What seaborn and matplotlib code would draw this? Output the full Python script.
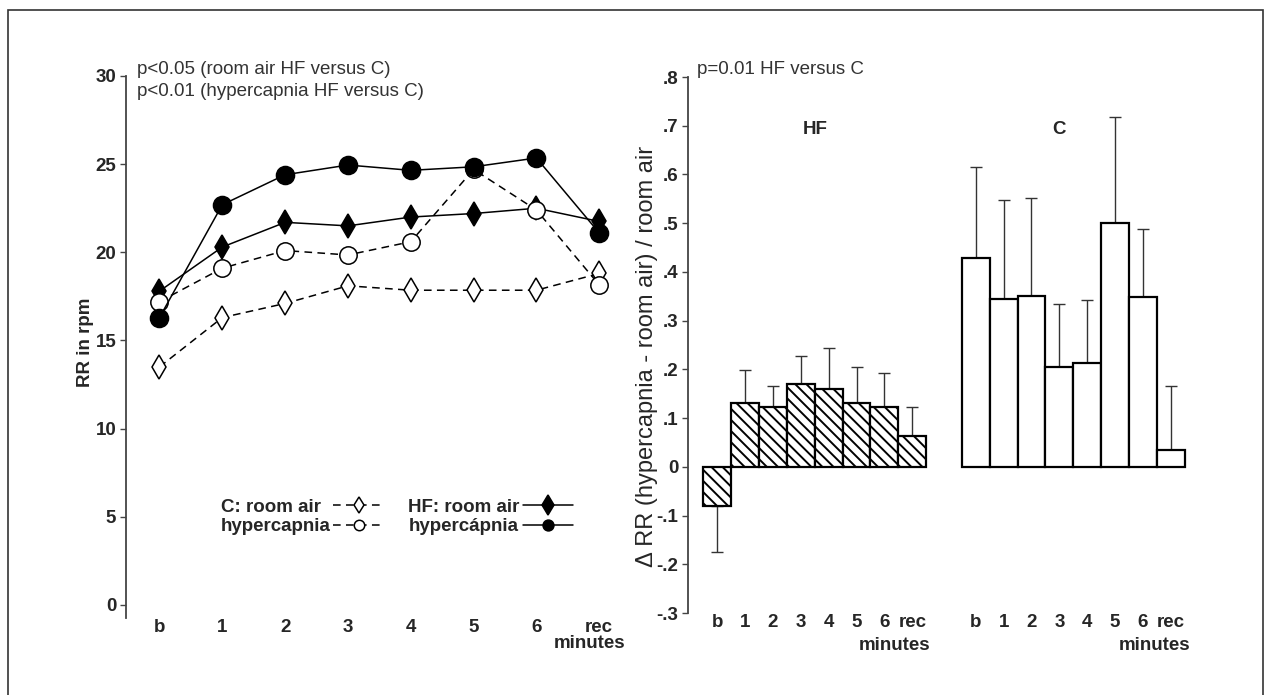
import matplotlib
matplotlib.use("Agg")
import matplotlib.pyplot as plt
import matplotlib.transforms as mtransforms
from matplotlib.patches import Rectangle
from matplotlib.ticker import FuncFormatter
import seaborn as sns
import numpy as np
import pandas as pd

# --- data ---
minutes = ["b", "1", "2", "3", "4", "5", "6", "rec"]

# respiratory rate (rpm), left panel
c_room_air = [13.5, 16.3, 17.1, 18.1, 17.85, 17.85, 17.85, 18.8]
c_hypercapnia = [17.2, 19.1, 20.1, 19.85, 20.6, 24.7, 22.4, 18.15]
hf_room_air = [17.8, 20.3, 21.7, 21.5, 22.0, 22.2, 22.5, 21.75]
hf_hypercapnia = [16.3, 22.7, 24.4, 24.95, 24.65, 24.85, 25.35, 21.1]

# relative change of RR, right panel (mean and one-sided error)
hf_delta = [-0.081, 0.130, 0.123, 0.169, 0.159, 0.130, 0.122, 0.064]
hf_err = [0.094, 0.069, 0.042, 0.058, 0.084, 0.075, 0.070, 0.059]
c_delta = [0.428, 0.344, 0.351, 0.205, 0.214, 0.500, 0.348, 0.034]
c_err = [0.188, 0.204, 0.200, 0.129, 0.128, 0.218, 0.140, 0.132]

sns.set_theme(style="white")
plt.rcParams["font.family"] = ["Liberation Sans", "DejaVu Sans"]
plt.rcParams["hatch.linewidth"] = 1.4

FS = 13.5
DARK = "#333333"
dash = (0, (5, 3.5))

fig = plt.figure(figsize=(12.69, 6.95), dpi=100)
ax1 = fig.add_axes([126 / 1269, 1 - 618 / 695, 499 / 1269, 542 / 695])
ax2 = fig.add_axes([688 / 1269, 1 - 613 / 695, 502 / 1269, 536 / 695])

# --- left panel: RR lines ---
x = np.arange(len(minutes))
series = {
    "C: room air": c_room_air,
    "hypercapnia": c_hypercapnia,
    "HF: room air": hf_room_air,
    "hypercápnia": hf_hypercapnia,
}
styles = {
    "C: room air": dict(marker="d", markerfacecolor="white", linestyle=dash, markersize=12, zorder=3),
    "hypercapnia": dict(marker="o", markerfacecolor="white", linestyle=dash, markersize=12.5, zorder=5),
    "HF: room air": dict(marker="d", markerfacecolor="black", linestyle="-", markersize=12.5, zorder=4),
    "hypercápnia": dict(marker="o", markerfacecolor="black", linestyle="-", markersize=13, zorder=6),
}
df_rr = pd.DataFrame({
    "minute": np.tile(x, len(series)),
    "rr": np.concatenate([series[k] for k in series]),
    "group": np.repeat(list(series.keys()), len(x)),
})
for name in series:
    sub = df_rr[df_rr["group"] == name]
    sns.lineplot(data=sub, x="minute", y="rr", ax=ax1, color="black",
                 markeredgecolor="black", markeredgewidth=1.1, linewidth=1.1,
                 label=name, **styles[name])

ax1.set_xlim(-0.533, 7.41)
ax1.set_ylim(-0.74, 30)
ax1.set_yticks(range(0, 31, 5))
ax1.set_xticks(x, minutes)
ax1.set_xlabel("")
ax1.set_ylabel("RR in rpm", fontsize=FS, fontweight="bold")
ax1.yaxis.set_label_coords(-0.064, 0.509)

handles, labels = ax1.get_legend_handles_labels()
leg = ax1.legend(handles, labels, ncol=2, loc="upper left", bbox_to_anchor=(0.19, 0.22),
                 frameon=False, markerfirst=False, markerscale=0.6, handlelength=2.67,
                 handletextpad=0.15, columnspacing=1.33, labelspacing=0.12,
                 borderpad=0, borderaxespad=0, prop={"size": FS, "weight": "bold"})
leg.legend_handles[0].set_markersize(8.5)
leg.legend_handles[2].set_markersize(10)

ax1.text(0.023, (618 - 70) / 542, "p<0.05 (room air HF versus C)", transform=ax1.transAxes,
         fontsize=FS, va="center", color=DARK)
ax1.text(0.023, (618 - 92) / 542, "p<0.01 (hypercapnia HF versus C)", transform=ax1.transAxes,
         fontsize=FS, va="center", color=DARK)
ax1.text(1.0, (618 - 643) / 542, "minutes", transform=ax1.transAxes, ha="right", va="center",
         fontsize=FS, fontweight="bold")

# --- right panel: relative change bars ---
hf_pos = np.arange(len(minutes)).astype(float)
c_pos = hf_pos + 9.28
df_hf = pd.DataFrame({"pos": hf_pos, "delta": hf_delta})
df_c = pd.DataFrame({"pos": c_pos, "delta": c_delta})
sns.barplot(data=df_hf, x="pos", y="delta", native_scale=True, width=1, color="white",
            saturation=1, edgecolor="black", linewidth=1.6, hatch="\\\\\\", errorbar=None, ax=ax2)
sns.barplot(data=df_c, x="pos", y="delta", native_scale=True, width=1, color="white",
            saturation=1, edgecolor="black", linewidth=1.6, errorbar=None, ax=ax2)

for pos, vals, errs in [(hf_pos, hf_delta, hf_err), (c_pos, c_delta, c_err)]:
    vals = np.asarray(vals)
    errs = np.asarray(errs)
    lower = np.where(vals < 0, errs, 0)
    upper = np.where(vals >= 0, errs, 0)
    ax2.errorbar(pos, vals, yerr=[lower, upper], fmt="none", ecolor=DARK, elinewidth=1,
                 capsize=4, capthick=1, zorder=0.9)

ax2.set_xlim(-1.05, 16.97)
ax2.set_ylim(-0.3, 0.8)
ax2.set_yticks(np.round(np.arange(-3, 9) / 10, 1))
ax2.yaxis.set_major_formatter(FuncFormatter(
    lambda v, p: "0" if abs(v) < 1e-9 else f"{v:.1f}".replace("0.", ".")))
ax2.set_xticks(np.concatenate([hf_pos, c_pos]), minutes * 2)
ax2.set_xlabel("")
ax2.set_ylabel("Δ RR (hypercapnia - room air) / room air", fontsize=17)
ax2.yaxis.set_label_coords(-0.06, 0.478)

ax2.text(0.017, (613 - 70) / 536, "p=0.01 HF versus C", transform=ax2.transAxes,
         fontsize=FS, va="center", color=DARK)
ax2.text(3.5, 0.693, "HF", ha="center", va="center", fontsize=FS, fontweight="bold")
ax2.text(12.25, 0.693, "C", ha="center", va="center", fontsize=FS, fontweight="bold")
trans = mtransforms.blended_transform_factory(ax2.transData, ax2.transAxes)
for xr in [7.64, 16.97]:
    ax2.text(xr, (613 - 645) / 536, "minutes", transform=trans, ha="right", va="center",
             fontsize=FS, fontweight="bold")

# --- axis styling ---
for ax in (ax1, ax2):
    sns.despine(ax=ax, top=True, right=True, bottom=True)
    ax.spines["left"].set_color("#444444")
    ax.spines["left"].set_linewidth(1.3)
    ax.tick_params(axis="y", left=True, length=4, width=1, color="#444444",
                   labelsize=FS, pad=3)
    ax.tick_params(axis="x", bottom=False, length=0, labelsize=FS, pad=1)
    for lab in ax.get_xticklabels() + ax.get_yticklabels():
        lab.set_fontweight("bold")
    ax.grid(False)
    ax.set_facecolor("none")

# thin frame around the whole figure
fig.patches.append(Rectangle((8 / 1269, -0.02), 1255 / 1269, 1 - 10 / 695 + 0.02,
                             transform=fig.transFigure, fill=False, edgecolor=DARK, linewidth=1.2))

# legend labels left aligned, handles still in one column (as in the original)
fig.canvas.draw()
renderer = fig.canvas.get_renderer()
for column in leg._legend_handle_box.get_children():
    items = column.get_children()
    widths = [it.get_children()[0].get_bbox(renderer).width for it in items]
    column.align = "left"
    for it, w in zip(items, widths):
        it.sep += (max(widths) - w) * 72 / fig.dpi

fig.savefig("out.png", dpi=100)
